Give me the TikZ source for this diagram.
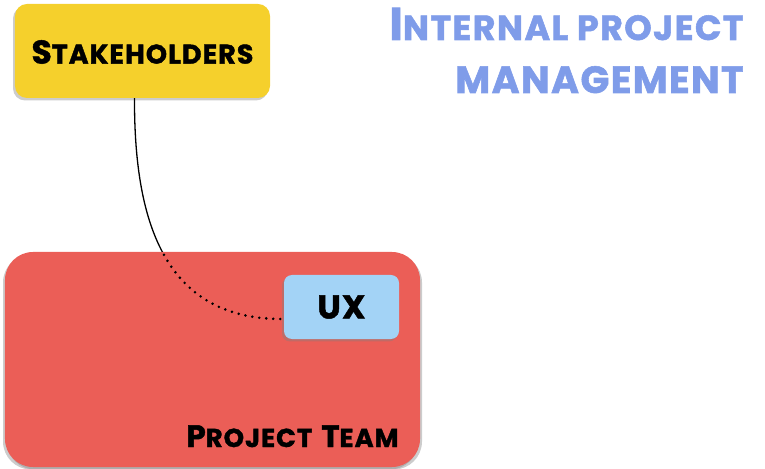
\documentclass[tikz,border=0pt]{standalone}
\usepackage{fontspec}
\newfontfamily\boardfont{Poppins}[LetterSpace=4, BoldFeatures={FakeBold=1.5}]
\usepackage{tikz}
\usetikzlibrary{shadows}
\definecolor{boardyellow}{HTML}{F5D02C}
\definecolor{boardred}{HTML}{EB5E57}
\definecolor{boardblue}{HTML}{A3D3F6}
\definecolor{titleblue}{HTML}{7F9CE9}
% first letter large, rest as small capitals
\newcommand{\capsword}[4]{{\fontsize{#3}{#3}\selectfont #1}{\fontsize{#4}{#4}\selectfont #2}}

\begin{document}
\begin{tikzpicture}[x=1bp,y=-1bp,
		card/.style={inner sep=0pt, drop shadow={shadow xshift=-2pt, shadow yshift=-2.5pt, opacity=0.4}},
		cardtext/.style={font=\boardfont\bfseries, text=black}]
		\useasboundingbox (0,0) rectangle (765,469);
		% boxes
		\node[card, fill=boardred, rounded corners=28bp, minimum width=415bp, minimum height=215bp,
			drop shadow={shadow xshift=2pt, shadow yshift=-2.5pt, opacity=0.4}] (team) at (212.5,359.5) {};
		\node[card, fill=boardyellow, rounded corners=12bp, minimum width=255bp, minimum height=94bp] (stake) at (142.5,51) {};
		\node[card, fill=boardblue, rounded corners=8bp, minimum width=115bp, minimum height=64bp] (ux) at (341.5,307) {};
		% labels
		\node[cardtext] (stakelabel) at ([yshift=-1bp]stake.center) {\capsword{S}{TAKEHOLDERS}{33}{27}};
		\node[cardtext] (uxlabel) at (ux.center) {\capsword{U}{X}{33}{33}};
		\node[cardtext, anchor=base east] (teamlabel) at (402,447) {\capsword{P}{ROJECT}{31}{26}\hspace{9bp}\capsword{T}{EAM}{31}{26}};
		\node[font=\boardfont\bfseries, text=titleblue, anchor=base east] (title1) at (747,40) {\capsword{I}{NTERNAL PROJECT}{46}{35}};
		\node[font=\boardfont\bfseries, text=titleblue, anchor=base east] (title2) at (747,93) {\capsword{M}{ANAGEMENT}{38}{38}};
		% link: solid above the team box, dotted inside it
		\begin{scope}
			\clip (0,0) rectangle (765,252);
			\draw[line width=1.3bp] ([xshift=-8bp]stake.south) .. controls (134,228) and (168,320) .. ([yshift=-12bp]ux.west);
		\end{scope}
		\begin{scope}
			\clip (0,252) rectangle (765,469);
			\draw[line width=2.8bp, line cap=round, dash pattern=on 0pt off 7bp] ([xshift=-8bp]stake.south) .. controls (134,228) and (168,320) .. ([yshift=-12bp]ux.west);
		\end{scope}
\end{tikzpicture}
\end{document}
